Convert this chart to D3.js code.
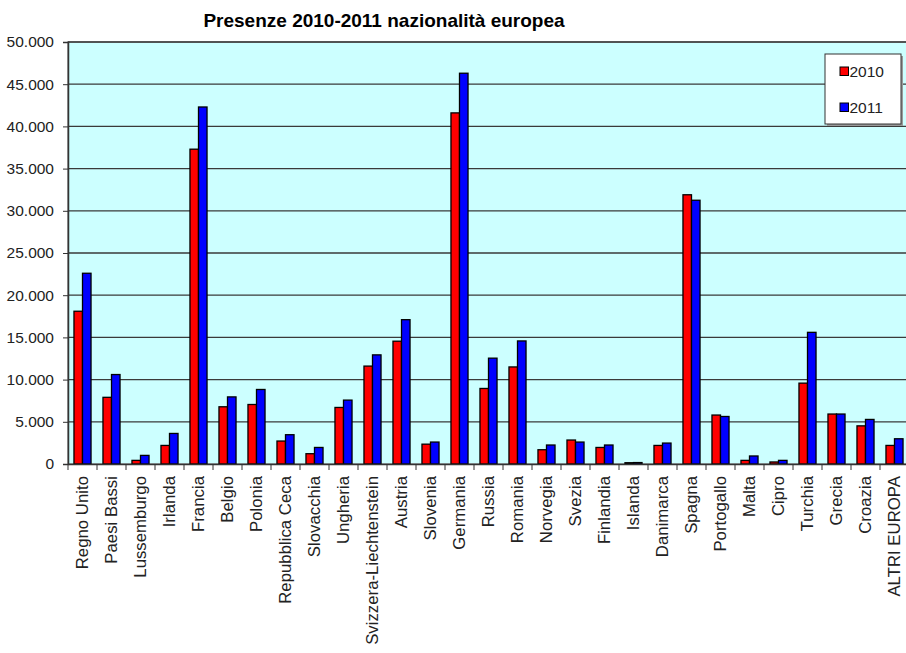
<!DOCTYPE html>
<html>
<head>
<meta charset="utf-8">
<script src="https://cdn.jsdelivr.net/npm/d3@7"></script>
<style>
  body { margin: 0; background: #fff; }
  svg { display: block; font-family: "Liberation Sans", Arial, sans-serif; }
</style>
</head>
<body>
<div id="chart"></div>
<script>
// presenze per nazionalita, 2010 vs 2011

var countries = ["Regno Unito", "Paesi Bassi", "Lussemburgo", "Irlanda", "Francia", "Belgio",
  "Polonia", "Repubblica Ceca", "Slovacchia", "Ungheria", "Svizzera-Liechtenstein", "Austria",
  "Slovenia", "Germania", "Russia", "Romania", "Norvegia", "Svezia", "Finlandia", "Islanda",
  "Danimarca", "Spagna", "Portogallo", "Malta", "Cipro", "Turchia", "Grecia", "Croazia",
  "ALTRI EUROPA"];

var values2010 = [18100, 7900, 430, 2200, 37300, 6780, 7050, 2720, 1220, 6700, 11600, 14550,
  2350, 41600, 8950, 11500, 1690, 2840, 1960, 150, 2200, 31900, 5800, 430, 240, 9580, 5920,
  4520, 2200];

var values2011 = [22600, 10600, 1020, 3620, 42300, 7950, 8830, 3470, 1960, 7570, 12930, 17100,
  2600, 46300, 12540, 14580, 2250, 2600, 2250, 170, 2480, 31250, 5630, 950, 430, 15600, 5920,
  5280, 2990];

var seriesNames = ["2010", "2011"];
var yTicks = [0, 5000, 10000, 15000, 20000, 25000, 30000, 35000, 40000, 45000, 50000];

var W = 906, H = 653;
var margin = {top: 42, left: 68, bottom: 464, right: 909};

var svg = d3.select("#chart").append("svg")
  .attr("width", W)
  .attr("height", H);

// scales
var x = d3.scaleBand().domain(countries).range([margin.left, margin.right]).padding(0);
var x1 = d3.scaleBand().domain(seriesNames).range([0, x.bandwidth()]).paddingInner(0).paddingOuter(0.7);
var y = d3.scaleLinear().domain([0, 50000]).range([margin.bottom, margin.top]);
var color = d3.scaleOrdinal().domain(seriesNames).range(["#ff0000", "#0000ff"]);

var fmt = function(d) { return d === 0 ? "0" : d3.format(",")(d).replace(/,/g, "."); };

// plot background
svg.append("rect")
  .attr("x", margin.left)
  .attr("y", margin.top)
  .attr("width", margin.right - margin.left)
  .attr("height", margin.bottom - margin.top)
  .attr("fill", "#ccffff")
  .attr("stroke", "#808080")
  .attr("stroke-width", 1.5);

// gridlines
svg.append("g")
  .selectAll("line")
  .data(yTicks.filter(function(d) { return d > 0; }))
  .enter().append("line")
  .attr("x1", margin.left)
  .attr("x2", margin.right)
  .attr("y1", function(d) { return y(d); })
  .attr("y2", function(d) { return y(d); })
  .attr("stroke", "#3a3a3a")
  .attr("stroke-width", 1.3);

// bars
var rows = countries.map(function(c, i) {
  return {name: c, vals: [{s: "2010", v: values2010[i]}, {s: "2011", v: values2011[i]}]};
});

var groups = svg.append("g").selectAll("g")
  .data(rows)
  .enter().append("g")
  .attr("transform", function(d) { return "translate(" + x(d.name) + ",0)"; });

groups.selectAll("rect")
  .data(function(d) { return d.vals; })
  .enter().append("rect")
  .attr("x", function(d) { return x1(d.s); })
  .attr("width", x1.bandwidth())
  .attr("y", function(d) { return y(d.v); })
  .attr("height", function(d) { return y(0) - y(d.v); })
  .attr("fill", function(d) { return color(d.s); })
  .attr("stroke", "#000")
  .attr("stroke-width", 1.3);

// y axis
var yAxis = svg.append("g")
  .attr("transform", "translate(" + margin.left + ",0)")
  .call(d3.axisLeft(y).tickValues(yTicks).tickFormat(fmt).tickSizeOuter(0).tickSize(5).tickPadding(9));
yAxis.select(".domain").attr("stroke", "#333").attr("stroke-width", 1.5);
yAxis.selectAll(".tick line").attr("stroke", "#333");
yAxis.selectAll("text").attr("font-size", "15.5px").attr("fill", "#222")
  .attr("font-family", "'Liberation Sans', Arial, sans-serif");

// x axis
var xAxis = svg.append("g")
  .attr("transform", "translate(0," + margin.bottom + ")")
  .call(d3.axisBottom(x).tickSize(0).tickSizeOuter(0));
xAxis.select(".domain").attr("stroke", "#333").attr("stroke-width", 1.5);
xAxis.selectAll("text")
  .attr("font-size", "16.8px")
  .attr("fill", "#222")
  .attr("font-family", "'Liberation Sans', Arial, sans-serif")
  .attr("transform", "rotate(-90)")
  .attr("x", -12)
  .attr("y", 0)
  .attr("dy", "0.35em")
  .style("text-anchor", "end");

// tick marks at category boundaries
svg.append("g")
  .selectAll("line")
  .data(countries)
  .enter().append("line")
  .attr("x1", function(d) { return x(d); })
  .attr("x2", function(d) { return x(d); })
  .attr("y1", margin.bottom)
  .attr("y2", margin.bottom + 6)
  .attr("stroke", "#333")
  .attr("stroke-width", 1);

// title
svg.append("text")
  .attr("x", 384)
  .attr("y", 27)
  .attr("text-anchor", "middle")
  .attr("font-family", "'Liberation Sans Narrow', 'Arial Narrow', 'Liberation Sans', sans-serif")
  .attr("font-weight", "bold")
  .attr("font-size", "19px")
  .attr("fill", "#000")
  .text("Presenze 2010-2011 nazionalità europea");

// legend
var legend = svg.append("g").attr("transform", "translate(825,54)");
legend.append("rect")
  .attr("x", 2).attr("y", 2)
  .attr("width", 76).attr("height", 70)
  .attr("fill", "#999");
legend.append("rect")
  .attr("width", 76).attr("height", 70)
  .attr("fill", "#fff")
  .attr("stroke", "#333")
  .attr("stroke-width", 1);

var items = legend.selectAll(".item")
  .data(seriesNames)
  .enter().append("g")
  .attr("class", "item")
  .attr("transform", function(d, i) { return "translate(15," + (13 + i * 36) + ")"; });

items.append("rect")
  .attr("width", 8.5).attr("height", 8.5)
  .attr("fill", function(d) { return color(d); })
  .attr("stroke", "#000")
  .attr("stroke-width", 1);

items.append("text")
  .attr("x", 9.5)
  .attr("y", 10)
  .attr("font-size", "15.5px")
  .attr("fill", "#222")
  .text(function(d) { return d; });
</script>
</body>
</html>
